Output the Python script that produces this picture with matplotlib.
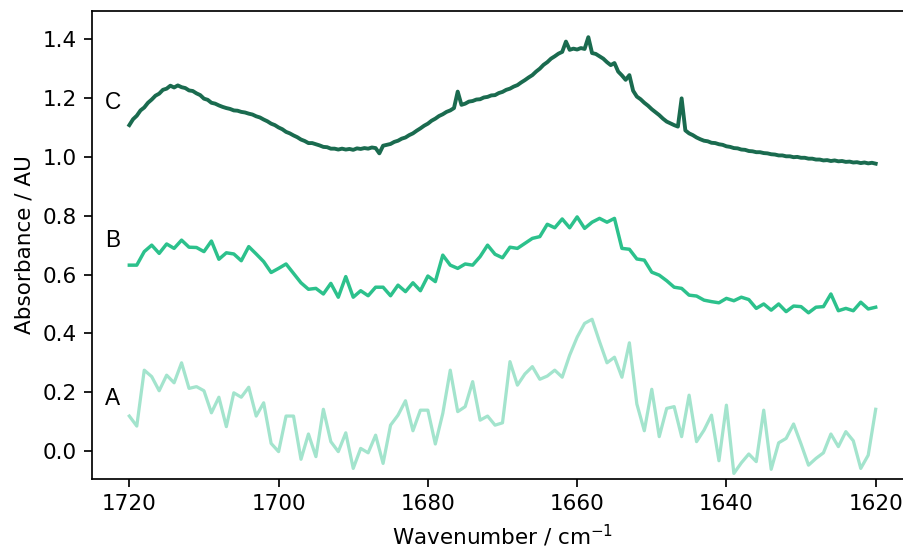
import numpy as np
import matplotlib
matplotlib.use("Agg")
import matplotlib.pyplot as plt

# Spectra A and B, sampled every 1 cm-1 from 1720 down to 1620
wn_ab = np.arange(1720, 1619, -1)

spec_a = [0.119, 0.085, 0.275, 0.253, 0.205, 0.258, 0.232, 0.300, 0.213, 0.219,
          0.205, 0.130, 0.183, 0.083, 0.198, 0.183, 0.217, 0.119, 0.164, 0.026,
          -0.002, 0.119, 0.119, -0.028, 0.058, -0.019, 0.142, 0.032, -0.002, 0.062,
          -0.059, 0.009, -0.006, 0.054, -0.042, 0.088, 0.122, 0.171, 0.069, 0.139,
          0.139, 0.024, 0.128, 0.275, 0.134, 0.151, 0.236, 0.105, 0.119, 0.088,
          0.096, 0.304, 0.224, 0.262, 0.287, 0.244, 0.255, 0.275, 0.251, 0.326,
          0.387, 0.434, 0.448, 0.372, 0.300, 0.319, 0.251, 0.368, 0.160, 0.069,
          0.210, 0.049, 0.145, 0.151, 0.049, 0.190, 0.032, 0.071, 0.122, -0.033,
          0.156, -0.076, -0.040, -0.010, -0.036, 0.139, -0.062, 0.028, 0.043, 0.092,
          0.024, -0.048, -0.025, -0.006, 0.058, 0.015, 0.066, 0.035, -0.059, -0.014,
          0.142]

spec_b = [0.632, 0.632, 0.678, 0.700, 0.672, 0.704, 0.689, 0.717, 0.693, 0.692,
          0.678, 0.714, 0.652, 0.674, 0.670, 0.647, 0.695, 0.670, 0.644, 0.607,
          0.621, 0.636, 0.604, 0.572, 0.550, 0.553, 0.534, 0.570, 0.523, 0.593,
          0.523, 0.545, 0.528, 0.557, 0.557, 0.528, 0.564, 0.542, 0.572, 0.545,
          0.595, 0.576, 0.666, 0.632, 0.621, 0.636, 0.632, 0.661, 0.700, 0.669,
          0.657, 0.693, 0.689, 0.706, 0.723, 0.729, 0.771, 0.759, 0.789, 0.759,
          0.796, 0.757, 0.778, 0.791, 0.778, 0.791, 0.689, 0.686, 0.653, 0.649,
          0.608, 0.598, 0.579, 0.557, 0.553, 0.530, 0.527, 0.513, 0.508, 0.504,
          0.519, 0.511, 0.523, 0.515, 0.485, 0.500, 0.479, 0.500, 0.474, 0.493,
          0.491, 0.470, 0.489, 0.491, 0.534, 0.477, 0.485, 0.477, 0.506, 0.483,
          0.489]

# Spectrum C is finer, every 0.5 cm-1
wn_c = np.arange(1720, 1619.9, -0.5)

spec_c = [1.108, 1.128, 1.140, 1.158, 1.168, 1.184, 1.195, 1.208, 1.215, 1.228,
          1.232, 1.242, 1.236, 1.243, 1.237, 1.234, 1.226, 1.224, 1.216, 1.210,
          1.198, 1.194, 1.184, 1.181, 1.175, 1.170, 1.166, 1.163, 1.158, 1.157,
          1.153, 1.151, 1.147, 1.144, 1.138, 1.134, 1.127, 1.121, 1.113, 1.108,
          1.100, 1.094, 1.085, 1.080, 1.073, 1.067, 1.059, 1.054, 1.047, 1.047,
          1.043, 1.039, 1.034, 1.033, 1.028, 1.028, 1.025, 1.028, 1.025, 1.027,
          1.024, 1.029, 1.027, 1.030, 1.028, 1.032, 1.030, 1.012, 1.038, 1.041,
          1.044, 1.051, 1.055, 1.062, 1.066, 1.074, 1.080, 1.089, 1.097, 1.106,
          1.113, 1.123, 1.130, 1.139, 1.145, 1.153, 1.158, 1.166, 1.222, 1.177,
          1.181, 1.188, 1.190, 1.195, 1.196, 1.202, 1.204, 1.209, 1.210, 1.217,
          1.221, 1.228, 1.232, 1.239, 1.244, 1.253, 1.261, 1.270, 1.278, 1.290,
          1.300, 1.313, 1.322, 1.334, 1.342, 1.351, 1.357, 1.392, 1.364, 1.368,
          1.365, 1.370, 1.367, 1.407, 1.353, 1.350, 1.342, 1.334, 1.322, 1.312,
          1.319, 1.290, 1.277, 1.262, 1.278, 1.225, 1.205, 1.196, 1.184, 1.174,
          1.162, 1.152, 1.142, 1.130, 1.120, 1.114, 1.108, 1.103, 1.199, 1.090,
          1.080, 1.074, 1.066, 1.060, 1.055, 1.053, 1.048, 1.047, 1.043, 1.041,
          1.036, 1.034, 1.030, 1.029, 1.025, 1.024, 1.020, 1.019, 1.016, 1.016,
          1.013, 1.012, 1.009, 1.008, 1.005, 1.005, 1.002, 1.002, 0.999, 1.000,
          0.997, 0.997, 0.994, 0.994, 0.991, 0.991, 0.988, 0.989, 0.986, 0.988,
          0.985, 0.986, 0.983, 0.984, 0.981, 0.982, 0.979, 0.981, 0.978, 0.980,
          0.977]

labels = ["A", "B", "C"]
label_y = [0.178, 0.715, 1.185]

col_a = "#a3e4cd"
col_b = "#2cc18c"
col_c = "#1a6b4f"

# figure drawn at 155 dpi so default sizes match the reference scale
fig = plt.figure(figsize=(903 / 155, 552 / 155), dpi=155)
ax = fig.add_axes([92 / 903, 73 / 552, 821 / 903, 468.3 / 552])

ax.plot(wn_ab, spec_a, color=col_a, lw=1.5)
ax.plot(wn_ab, spec_b, color=col_b, lw=1.6)
ax.plot(wn_c, spec_c, color=col_c, lw=1.8)

for lab, y in zip(labels, label_y):
    ax.text(1723.3, y, lab, ha="left", va="center", fontsize=10.5,
            family="Liberation Sans")

ax.set_xlim(1725, 1615)
ax.set_ylim(-0.095, 1.497)
ax.set_xticks([1720, 1700, 1680, 1660, 1640, 1620])
ax.set_yticks([0.0, 0.2, 0.4, 0.6, 0.8, 1.0, 1.2, 1.4])
# the reference is cropped just before the right frame line
ax.spines["right"].set_visible(False)

ax.set_xlabel("Wavenumber / cm$^{-1}$")
ax.set_ylabel("Absorbance / AU")

fig.savefig("out.png", dpi=155)
